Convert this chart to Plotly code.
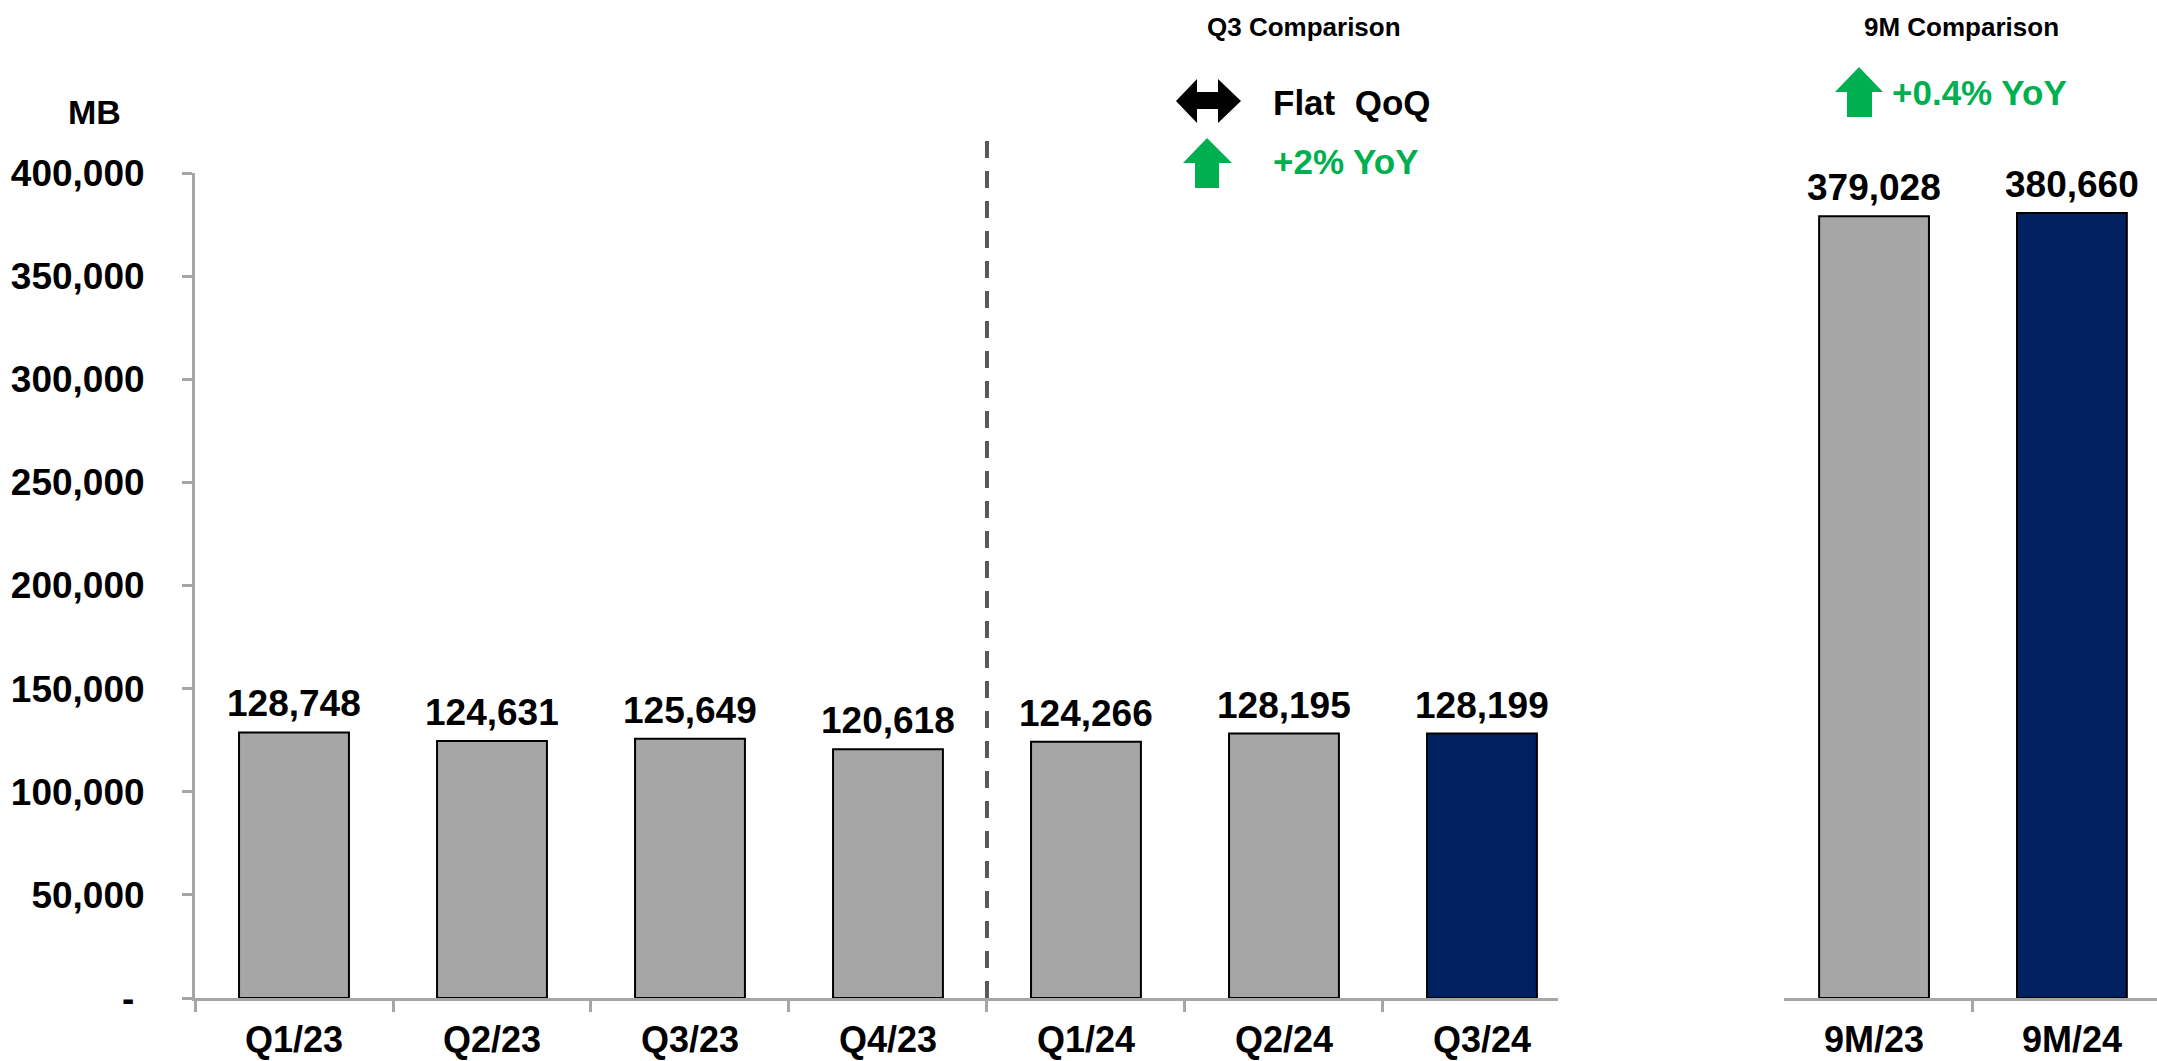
import plotly.graph_objects as go

# ---- data -------------------------------------------------------------
quarters = ["Q1/23", "Q2/23", "Q3/23", "Q4/23", "Q1/24", "Q2/24", "Q3/24"]
quarter_values = [128748, 124631, 125649, 120618, 124266, 128195, 128199]

periods = ["9M/23", "9M/24"]
period_values = [379028, 380660]

y_tickvals = [0, 50000, 100000, 150000, 200000, 250000, 300000, 350000, 400000]
y_ticktext = ["-\u00a0", "50,000", "100,000", "150,000", "200,000",
              "250,000", "300,000", "350,000", "400,000"]

# ---- styling ----------------------------------------------------------
W, H = 2157, 1061
PLOT_TOP, PLOT_BOTTOM = 173, 998
GREY = "#A6A6A6"
NAVY = "#002060"
GREEN = "#00B050"
AXIS = "#A6A6A6"
FONT = "Liberation Sans, Arial, sans-serif"


def px(x):
    return x / W


def py(y):
    return (PLOT_BOTTOM - y) / (PLOT_BOTTOM - PLOT_TOP)


quarter_colors = [GREY] * (len(quarters) - 1) + [NAVY]
period_colors = [GREY, NAVY]

fig = go.Figure()

fig.add_trace(go.Bar(
    x=quarters, y=quarter_values, xaxis="x", yaxis="y",
    marker=dict(color=quarter_colors, line=dict(color="#000000", width=2)),
    width=0.555, showlegend=False, hoverinfo="x+y",
))

fig.add_trace(go.Bar(
    x=periods, y=period_values, xaxis="x2", yaxis="y",
    marker=dict(color=period_colors, line=dict(color="#000000", width=2)),
    width=0.555, showlegend=False, hoverinfo="x+y",
))

# value labels above each bar
for xref, cats, vals in (("x", quarters, quarter_values), ("x2", periods, period_values)):
    for c, v in zip(cats, vals):
        fig.add_annotation(
            x=c, y=v, xref=xref, yref="y", text=f"{v:,}", showarrow=False,
            xanchor="center", yanchor="bottom", yshift=6,
            font=dict(family=FONT, size=37, color="#000000", weight="bold"),
        )

xaxis_common = dict(
    type="category", tickson="boundaries", ticks="outside", ticklen=11,
    tickwidth=3, tickcolor=AXIS, showline=True, linecolor=AXIS, linewidth=3,
    showgrid=False, zeroline=False, anchor="y",
    tickfont=dict(family=FONT, size=36, color="#000000", weight="bold"),
    ticklabelstandoff=8, fixedrange=True,
)

fig.update_layout(
    width=W, height=H, autosize=False,
    margin=dict(l=0, r=0, t=PLOT_TOP, b=H - PLOT_BOTTOM, pad=0),
    paper_bgcolor="#FFFFFF", plot_bgcolor="#FFFFFF",
    xaxis=dict(domain=[px(195), px(1558)], range=[-0.5, 6.384], **xaxis_common),
    xaxis2=dict(domain=[px(1784), 1.0], range=[-0.455, 1.43], **xaxis_common),
    yaxis=dict(
        domain=[0, 1], range=[0, 400000], tickvals=y_tickvals, ticktext=y_ticktext,
        ticks="outside", ticklen=10, tickwidth=3, tickcolor=AXIS,
        showline=True, linecolor=AXIS, linewidth=3, showgrid=False,
        zeroline=False, anchor="x", ticklabelstandoff=30,
        tickfont=dict(family=FONT, size=37, color="#000000", weight="bold"),
        fixedrange=True,
    ),
)

# dashed divider between 2023 and 2024 quarters
fig.add_shape(type="line", xref="x", yref="paper", x0=3.5, x1=3.5,
              y0=0, y1=py(133), layer="below",
              line=dict(color="#595959", width=4, dash="17px,13px"))


def arrow_path(points):
    return "M " + " L ".join(f"{px(x):.5f},{py(y):.5f}" for x, y in points) + " Z"


# flat (double-headed) arrow
fig.add_shape(type="path", xref="paper", yref="paper", line=dict(width=0),
              fillcolor="#000000",
              path=arrow_path([(1176, 101), (1197, 79), (1197, 92), (1218, 92),
                               (1218, 79), (1241, 101), (1218, 123), (1218, 109),
                               (1197, 109), (1197, 123)]))
# up arrows
fig.add_shape(type="path", xref="paper", yref="paper", line=dict(width=0),
              fillcolor=GREEN,
              path=arrow_path([(1207, 138), (1232, 163), (1219, 163), (1219, 188),
                               (1195, 188), (1195, 163), (1183, 163)]))
fig.add_shape(type="path", xref="paper", yref="paper", line=dict(width=0),
              fillcolor=GREEN,
              path=arrow_path([(1859, 67), (1883, 92), (1872, 92), (1872, 117),
                               (1847, 117), (1847, 92), (1835, 92)]))


def label(text, x, y, size, color="#000000", xanchor="center"):
    fig.add_annotation(text=text, xref="paper", yref="paper", x=px(x), y=py(y),
                       xanchor=xanchor, yanchor="middle", showarrow=False,
                       font=dict(family=FONT, size=size, color=color, weight="bold"))


label("MB", 94, 112, 34)
label("Q3 Comparison", 1304, 27, 26)
label("Flat\u00a0\u00a0QoQ", 1271, 103, 35, xanchor="left")
label("+2% YoY", 1271, 162, 35, color=GREEN, xanchor="left")
label("9M Comparison", 1961, 27, 26)
label("+0.4% YoY", 1890, 92, 35, color=GREEN, xanchor="left")

fig.write_html("out.html")
